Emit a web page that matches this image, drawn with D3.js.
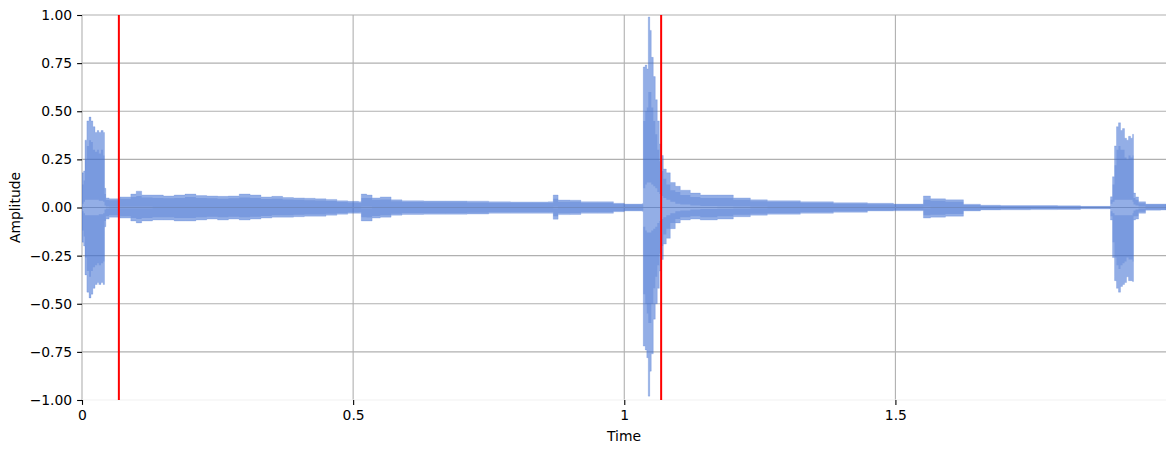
<!DOCTYPE html>
<html>
<head>
<meta charset="utf-8">
<script src="https://cdn.jsdelivr.net/npm/d3@7"></script>
<style>
  html, body { margin: 0; padding: 0; background: #fff; }
  svg { display: block; font-family: "DejaVu Sans", sans-serif; }
</style>
</head>
<body>
<svg id="chart" width="1176" height="453"></svg>
<script>
// ---- data ----
const times = [0.000,0.003,0.0055,0.009,0.013,0.0166,0.020,0.024,0.028,0.031,0.035,0.039,0.0415,0.044,
  0.05,0.07,0.09,0.10,0.11,0.13,0.15,0.17,0.19,0.21,0.23,0.25,0.27,0.29,0.31,0.33,0.35,0.37,0.39,0.41,0.43,0.45,0.47,0.49,0.51,
  0.515,0.525,0.535,0.55,0.57,0.59,0.63,0.67,0.71,0.75,0.79,0.83,0.86,0.869,0.878,0.90,0.92,0.95,0.98,1.00,1.033,
  1.035,1.0387,1.0415,1.0443,1.047,1.0498,1.0535,1.0572,1.0609,1.0646,1.0683,1.072,1.0775,1.0849,1.0941,1.1033,1.1218,1.1402,1.1716,1.2011,
  1.2325,1.2638,1.3247,1.3856,1.4483,1.4963,1.5461,1.5517,1.5646,1.5923,1.6255,1.6568,1.6937,1.7491,1.7989,1.8413,1.8948,
  1.8967,1.9004,1.9041,1.9077,1.9114,1.9151,1.9188,1.9225,1.9262,1.9299,1.9336,1.9373,1.9391,1.9428,1.9483,1.9613,1.9889,1.999];
const envUpper = [0.18,0.19,0.35,0.45,0.47,0.45,0.42,0.39,0.40,0.39,0.40,0.39,0.10,0.05,
  0.045,0.055,0.07,0.085,0.065,0.065,0.06,0.065,0.07,0.062,0.06,0.058,0.06,0.07,0.065,0.055,0.058,0.052,0.05,0.048,0.045,0.042,0.035,0.032,0.03,
  0.07,0.065,0.05,0.055,0.04,0.035,0.034,0.034,0.033,0.03,0.029,0.029,0.03,0.065,0.039,0.038,0.03,0.03,0.022,0.018,0.02,
  0.73,0.74,0.72,0.99,0.92,0.78,0.68,0.56,0.45,0.33,0.27,0.20,0.18,0.13,0.11,0.09,0.075,0.065,0.065,0.05,
  0.04,0.035,0.03,0.025,0.022,0.018,0.018,0.06,0.045,0.04,0.017,0.012,0.01,0.01,0.009,0.006,0.006,
  0.056,0.16,0.32,0.42,0.44,0.40,0.41,0.36,0.35,0.37,0.36,0.38,0.075,0.055,0.03,0.018,0.018,0.01];
const envLower = [-0.18,-0.20,-0.35,-0.44,-0.47,-0.45,-0.42,-0.40,-0.39,-0.40,-0.39,-0.40,-0.10,-0.06,
  -0.05,-0.055,-0.07,-0.08,-0.07,-0.065,-0.065,-0.07,-0.07,-0.065,-0.06,-0.065,-0.06,-0.065,-0.06,-0.055,-0.05,-0.05,-0.048,-0.045,-0.045,-0.04,-0.035,-0.03,-0.03,
  -0.07,-0.07,-0.055,-0.05,-0.04,-0.036,-0.035,-0.035,-0.034,-0.03,-0.03,-0.03,-0.03,-0.061,-0.037,-0.036,-0.03,-0.03,-0.022,-0.018,-0.02,
  -0.72,-0.74,-0.78,-0.98,-0.85,-0.76,-0.58,-0.50,-0.42,-0.33,-0.27,-0.19,-0.16,-0.11,-0.08,-0.065,-0.06,-0.065,-0.06,-0.048,
  -0.04,-0.035,-0.03,-0.025,-0.018,-0.017,-0.017,-0.055,-0.05,-0.045,-0.018,-0.013,-0.012,-0.011,-0.01,-0.007,-0.006,
  -0.065,-0.26,-0.38,-0.42,-0.44,-0.41,-0.40,-0.39,-0.36,-0.38,-0.38,-0.385,-0.065,-0.06,-0.03,-0.014,-0.013,-0.01];
const denseUpper = [0.12,0.14,0.25,0.32,0.35,0.34,0.30,0.29,0.30,0.28,0.30,0.27,0.07,0.04,
  0.038,0.045,0.055,0.06,0.052,0.05,0.048,0.05,0.055,0.05,0.048,0.046,0.048,0.052,0.05,0.044,0.045,0.042,0.04,0.038,0.036,0.034,0.028,0.026,0.024,
  0.05,0.05,0.04,0.042,0.032,0.028,0.027,0.027,0.026,0.024,0.023,0.023,0.024,0.045,0.03,0.03,0.024,0.024,0.018,0.014,0.016,
  0.45,0.50,0.52,0.60,0.60,0.52,0.45,0.38,0.30,0.24,0.19,0.15,0.12,0.09,0.08,0.065,0.055,0.05,0.05,0.04,
  0.032,0.028,0.024,0.02,0.017,0.014,0.014,0.04,0.035,0.03,0.013,0.009,0.008,0.008,0.007,0.005,0.005,
  0.04,0.12,0.22,0.30,0.32,0.30,0.30,0.26,0.25,0.27,0.26,0.27,0.05,0.04,0.022,0.014,0.014,0.008];
const denseLower = [-0.12,-0.15,-0.26,-0.33,-0.36,-0.33,-0.31,-0.30,-0.29,-0.30,-0.29,-0.28,-0.07,-0.045,
  -0.04,-0.045,-0.055,-0.06,-0.055,-0.05,-0.05,-0.055,-0.055,-0.05,-0.048,-0.05,-0.048,-0.05,-0.048,-0.044,-0.04,-0.04,-0.038,-0.036,-0.036,-0.032,-0.028,-0.025,-0.024,
  -0.05,-0.052,-0.044,-0.04,-0.032,-0.029,-0.028,-0.028,-0.027,-0.024,-0.024,-0.024,-0.024,-0.045,-0.03,-0.029,-0.024,-0.024,-0.018,-0.014,-0.016,
  -0.45,-0.50,-0.55,-0.60,-0.60,-0.50,-0.42,-0.36,-0.30,-0.24,-0.20,-0.14,-0.11,-0.08,-0.06,-0.05,-0.045,-0.05,-0.045,-0.038,
  -0.032,-0.028,-0.024,-0.02,-0.014,-0.013,-0.013,-0.04,-0.038,-0.034,-0.014,-0.01,-0.009,-0.008,-0.008,-0.005,-0.005,
  -0.045,-0.18,-0.26,-0.30,-0.32,-0.30,-0.29,-0.28,-0.26,-0.27,-0.27,-0.28,-0.045,-0.045,-0.022,-0.011,-0.01,-0.008];
const coreHalf = [0.02,0.03,0.04,0.04,0.04,0.04,0.04,0.04,0.04,0.035,0.035,0.03,0.01,0.005,
  0.004,0.004,0.004,0.004,0.004,0.003,0.003,0.003,0.003,0.003,0.003,0.003,0.003,0.003,0.003,0.003,0.003,0.003,0.003,0.003,0.003,0.003,0.003,0.003,0.003,
  0.004,0.004,0.003,0.003,0.003,0.003,0.003,0.003,0.003,0.003,0.003,0.003,0.003,0.004,0.003,0.003,0.003,0.003,0.002,0.002,0.002,
  0.10,0.12,0.13,0.13,0.13,0.12,0.11,0.10,0.08,0.07,0.06,0.05,0.04,0.03,0.02,0.015,0.01,0.008,0.006,0.005,
  0.004,0.003,0.003,0.002,0.002,0.002,0.002,0.004,0.003,0.003,0.002,0.001,0.001,0.001,0.001,0.001,0.001,
  0.02,0.03,0.04,0.04,0.04,0.04,0.04,0.04,0.04,0.04,0.04,0.03,0.015,0.01,0.005,0.002,0.002,0.001];
const markerTimes = [0.068, 1.068];
const xTicks = [0, 0.5, 1, 1.5];
const xTickLabels = ["0", "0.5", "1", "1.5"];
const yTicks = [-1, -0.75, -0.5, -0.25, 0, 0.25, 0.5, 0.75, 1];
const xDomain = [0, 1.999];
const yDomain = [-1, 1];

// ---- layout ----
const svg = d3.select("#chart");
const m = { left: 82, right: 1166, top: 15, bottom: 400 };
const x = d3.scaleLinear().domain(xDomain).range([m.left, m.right]);
const y = d3.scaleLinear().domain(yDomain).range([m.bottom, m.top]);
const gridColor = "#b0b0b0";
const waveColor = "rgb(63,110,210)";

const rows = times.map((t, i) => ({ t, up: envUpper[i], lo: envLower[i], du: denseUpper[i], dl: denseLower[i], c: coreHalf[i] }));

// grid
const grid = svg.append("g");
grid.selectAll("line.gx").data(xTicks).join("line")
  .attr("x1", d => x(d)).attr("x2", d => x(d))
  .attr("y1", m.top).attr("y2", m.bottom)
  .attr("stroke", gridColor).attr("stroke-width", 1.1);
grid.selectAll("line.gy").data(yTicks).join("line")
  .attr("x1", m.left).attr("x2", m.right)
  .attr("y1", d => y(d)).attr("y2", d => y(d))
  .attr("stroke", d => d === -1 ? "#f2f2f2" : gridColor).attr("stroke-width", 1.1);

// waveform
svg.append("clipPath").attr("id", "clip").append("rect")
  .attr("x", m.left).attr("y", m.top).attr("width", m.right - m.left).attr("height", m.bottom - m.top);
const wave = svg.append("g").attr("clip-path", "url(#clip)");
const curve = d3.curveStepAfter;
wave.append("path").datum(rows)
  .attr("d", d3.area().curve(curve).x(d => x(d.t)).y0(d => y(d.lo)).y1(d => y(d.up)))
  .attr("fill", waveColor).attr("fill-opacity", 0.56)
  .attr("stroke", waveColor).attr("stroke-opacity", 0.25).attr("stroke-width", 0.8);
wave.append("path").datum(rows)
  .attr("d", d3.area().curve(curve).x(d => x(d.t)).y0(d => y(d.c)).y1(d => y(d.du)))
  .attr("fill", waveColor).attr("fill-opacity", 0.3);
wave.append("path").datum(rows)
  .attr("d", d3.area().curve(curve).x(d => x(d.t)).y0(d => y(-d.c)).y1(d => y(d.dl)))
  .attr("fill", waveColor).attr("fill-opacity", 0.3);

// red markers
svg.selectAll("line.marker").data(markerTimes).join("line")
  .attr("x1", d => x(d)).attr("x2", d => x(d))
  .attr("y1", m.top).attr("y2", m.bottom)
  .attr("stroke", "red").attr("stroke-width", 2);

// axes
const fmtY = d3.format(".2f");
const yAxis = d3.axisLeft(y).tickValues(yTicks).tickFormat(fmtY).tickSize(4.9).tickPadding(4.9);
const gy = svg.append("g").attr("transform", `translate(${m.left},0)`).call(yAxis);
gy.select(".domain").remove();
gy.selectAll(".tick line").attr("stroke", "#000").attr("stroke-width", 1.1);
gy.selectAll(".tick text").attr("font-size", "13.9px").attr("fill", "#000").attr("font-family", "DejaVu Sans");

const xAxis = d3.axisBottom(x).tickValues(xTicks).tickFormat((d, i) => xTickLabels[i]).tickSize(4.9).tickPadding(4.9);
const gx = svg.append("g").attr("transform", `translate(0,${m.bottom})`).call(xAxis);
gx.select(".domain").remove();
gx.selectAll(".tick line").attr("stroke", "#000").attr("stroke-width", 1.1);
gx.selectAll(".tick text").attr("font-size", "13.9px").attr("fill", "#000").attr("font-family", "DejaVu Sans");

// axis labels
svg.append("text").attr("x", (m.left + m.right) / 2).attr("y", 441)
  .attr("text-anchor", "middle").attr("font-size", "13.9px").attr("fill", "#000").text("Time");
svg.append("text").attr("transform", `translate(20,${(m.top + m.bottom) / 2}) rotate(-90)`)
  .attr("text-anchor", "middle").attr("font-size", "13.9px").attr("fill", "#000").text("Amplitude");
</script>
</body>
</html>
